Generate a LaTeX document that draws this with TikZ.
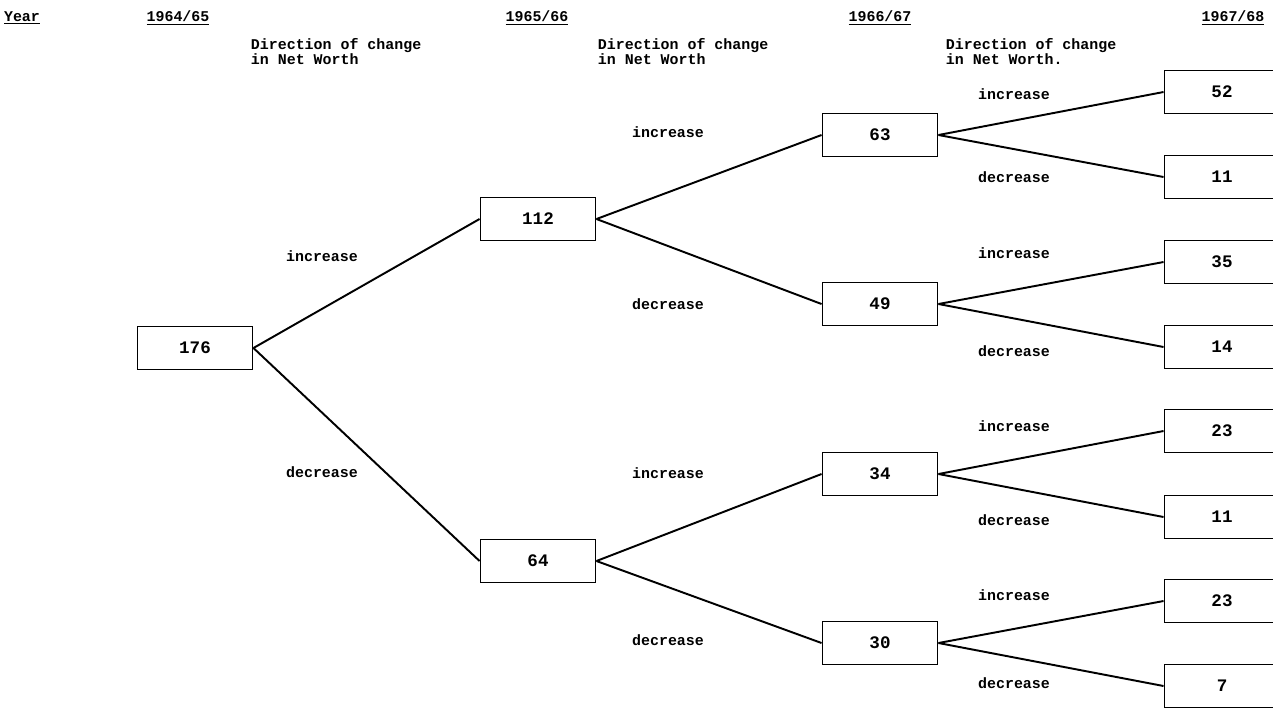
\documentclass[tikz,border=0pt]{standalone}
\usepackage{fontspec}
\setmainfont{Liberation Mono}
\usetikzlibrary{positioning}

\begin{document}
\begin{tikzpicture}[x=0.02cm, y=-0.02cm, line width=1.1pt,
			box/.style={draw, rectangle, minimum width=2.3cm, minimum height=0.86cm, inner sep=2pt, font=\fontsize{10}{11}\selectfont\bfseries},
			lbl/.style={font=\fontsize{8.5}{9}\selectfont\bfseries, inner sep=0pt},
			head/.style={lbl, font=\fontsize{8.5}{6.8}\selectfont\bfseries, align=left, anchor=north west}]
			\useasboundingbox (0,0) rectangle (1273,708);
			\clip (0,0) rectangle (1273,708);
			
			% column headings
			\node[lbl](year) at (22, 18) {\underline{Year}};
			\node[lbl](yr1) at (178, 18) {\underline{1964/65}};
			\node[lbl](yr2) at (537, 18) {\underline{1965/66}};
			\node[lbl](yr3) at (880, 18) {\underline{1966/67}};
			\node[lbl](yr4) at (1233, 18) {\underline{1967/68}};
			
			\node[head](dir1) at (250, 37) {Direction of change\\in Net Worth};
			\node[head](dir2) at (597, 37) {Direction of change\\in Net Worth};
			\node[head](dir3) at (945, 37) {Direction of change\\in Net Worth.};
			
			% 1964/65
			\node[box](node1) at (195, 348) {176};
			
			% 1965/66
			\node[box](node2) at (538, 219) {112};
			\node[box](node3) at (538, 561) {64};
			\draw (node1.east) -- (node2.west);
			\draw (node1.east) -- (node3.west);
			\node[lbl] at (322, 256) {increase};
			\node[lbl] at (322, 472) {decrease};
			
			% 1966/67
			\node[box](node4) at (880, 135) {63};
			\node[box](node5) at (880, 304) {49};
			\node[box](node6) at (880, 474) {34};
			\node[box](node7) at (880, 643) {30};
			\draw (node2.east) -- (node4.west);
			\draw (node2.east) -- (node5.west);
			\draw (node3.east) -- (node6.west);
			\draw (node3.east) -- (node7.west);
			\node[lbl] at (668, 132) {increase};
			\node[lbl] at (668, 304) {decrease};
			\node[lbl] at (668, 473) {increase};
			\node[lbl] at (668, 640) {decrease};
			
			% 1967/68
			\node[box](node8) at (1222, 92) {52};
			\node[box](node9) at (1222, 177) {11};
			\node[box](node10) at (1222, 262) {35};
			\node[box](node11) at (1222, 347) {14};
			\node[box](node12) at (1222, 431) {23};
			\node[box](node13) at (1222, 517) {11};
			\node[box](node14) at (1222, 601) {23};
			\node[box](node15) at (1222, 686) {7};
			\draw (node4.east) -- (node8.west);
			\draw (node4.east) -- (node9.west);
			\draw (node5.east) -- (node10.west);
			\draw (node5.east) -- (node11.west);
			\draw (node6.east) -- (node12.west);
			\draw (node6.east) -- (node13.west);
			\draw (node7.east) -- (node14.west);
			\draw (node7.east) -- (node15.west);
			\node[lbl] at (1014, 94) {increase};
			\node[lbl] at (1014, 177) {decrease};
			\node[lbl] at (1014, 253) {increase};
			\node[lbl] at (1014, 351) {decrease};
			\node[lbl] at (1014, 426) {increase};
			\node[lbl] at (1014, 520) {decrease};
			\node[lbl] at (1014, 595) {increase};
			\node[lbl] at (1014, 683) {decrease};
			\end{tikzpicture}
\end{document}
